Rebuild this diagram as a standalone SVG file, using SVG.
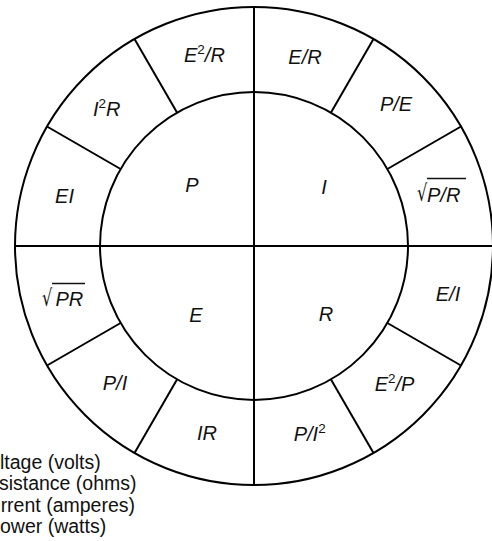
<svg xmlns="http://www.w3.org/2000/svg" width="492" height="541" viewBox="0 0 492 541">
<style>
.ln{stroke:#000;stroke-width:2;fill:none}
.lb{font-family:"Liberation Sans",Arial,sans-serif;font-style:italic;font-size:20px;fill:#111}
.c{text-anchor:middle}
.sup{font-style:normal;font-size:13.5px}
.rad{font-family:"DejaVu Sans","Liberation Sans",sans-serif;font-style:normal;font-size:23px;fill:#111}
.vin{stroke:#111;stroke-width:1.3}
.lg{font-family:"Liberation Sans",Arial,sans-serif;font-size:19.5px;fill:#111}
.e{text-anchor:end}
</style>
<rect width="492" height="541" fill="#fff"/>
<g id="wheel">
<circle class="ln" cx="254" cy="246" r="239"/>
<circle class="ln" cx="254" cy="246" r="154"/>
</g>
<g id="connectors">
<line class="ln" x1="15" y1="246" x2="493" y2="246"/>
<line class="ln" x1="254" y1="7" x2="254" y2="485"/>
<line class="ln" x1="177" y1="112.6" x2="134.5" y2="39"/>
<line class="ln" x1="120.6" y1="169" x2="47" y2="126.5"/>
<line class="ln" x1="331" y1="112.6" x2="373.5" y2="39"/>
<line class="ln" x1="387.4" y1="169" x2="461" y2="126.5"/>
<line class="ln" x1="120.6" y1="323" x2="47" y2="365.5"/>
<line class="ln" x1="177" y1="379.4" x2="134.5" y2="453"/>
<line class="ln" x1="387.4" y1="323" x2="461" y2="365.5"/>
<line class="ln" x1="331" y1="379.4" x2="373.5" y2="453"/>
</g>
<g id="P"><text class="lb c" x="192" y="192">P</text></g>
<g id="I"><text class="lb c" x="324" y="194">I</text></g>
<g id="E"><text class="lb c" x="196" y="322">E</text></g>
<g id="R"><text class="lb c" x="326" y="321">R</text></g>
<g id="E2R"><text class="lb" x="184" y="62">E<tspan class="sup" dy="-8">2</tspan><tspan dy="8">/R</tspan></text></g>
<g id="I2R"><text class="lb" x="93" y="116">I<tspan class="sup" dy="-8">2</tspan><tspan dy="8">R</tspan></text></g>
<g id="EI"><text class="lb c" x="64.5" y="203">EI</text></g>
<g id="ER"><text class="lb c" x="305" y="64">E/R</text></g>
<g id="PE"><text class="lb c" x="396" y="111">P/E</text></g>
<g id="sqrtPR2"><text class="rad" transform="translate(417,201) scale(0.7,1)">√</text><line class="vin" x1="427" y1="178.5" x2="466" y2="178.5"/><text class="lb" x="427" y="201.7">P/R</text></g>
<g id="sqrtPR"><text class="rad" transform="translate(42,306) scale(0.7,1)">√</text><line class="vin" x1="52" y1="283.5" x2="85" y2="283.5"/><text class="lb" x="55.5" y="306">PR</text></g>
<g id="EoI"><text class="lb c" x="448" y="301">E/I</text></g>
<g id="PI"><text class="lb c" x="115" y="390">P/I</text></g>
<g id="IR"><text class="lb c" x="207" y="440">IR</text></g>
<g id="E2P"><text class="lb" x="374.7" y="391">E<tspan class="sup" dy="-8">2</tspan><tspan dy="8">/P</tspan></text></g>
<g id="PI2"><text class="lb" x="293.7" y="441">P/I<tspan class="sup" dy="-8">2</tspan></text></g>
<g id="legend">
<text class="lg" x="0" y="468.5">ltage (volts)</text>
<text class="lg e" x="136.5" y="490">sistance (ohms)</text>
<text class="lg e" x="135" y="511.5">rrent (amperes)</text>
<text class="lg" x="0" y="533">ower (watts)</text>
</g>
</svg>
